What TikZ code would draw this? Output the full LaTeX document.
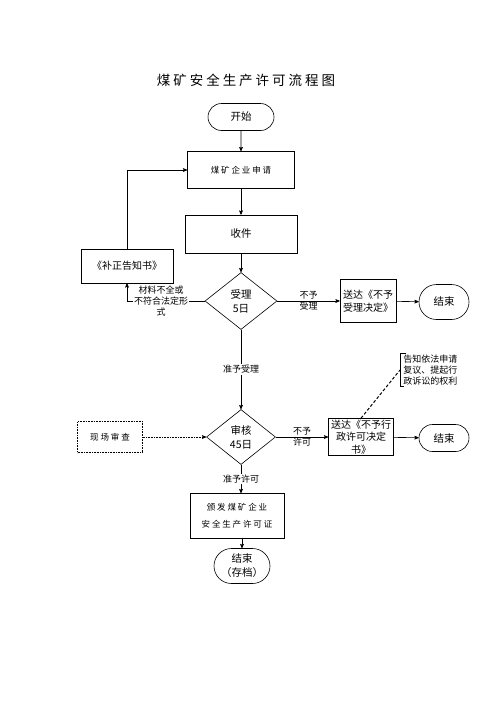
\documentclass[tikz,border=0pt]{standalone}
\usepackage{fontspec}
\setmainfont{Noto Sans CJK SC}
\newfontfamily\cjkwide[LetterSpace=22]{Noto Sans CJK SC}
\usetikzlibrary{arrows,shapes.geometric,shapes.misc,positioning}

\begin{document}
\begin{tikzpicture}[x=1pt,y=-1pt,->,>=stealth',line width=0.6pt,
  box/.style={rectangle,draw,align=center,inner sep=1pt,font=\fontsize{10.5}{14}\selectfont},
  widebox/.style={box,font=\cjkwide\fontsize{8.5}{17}\selectfont},
  term/.style={rounded rectangle,draw,align=center,inner sep=1pt,font=\fontsize{10.5}{14}\selectfont},
  check/.style={diamond,draw,align=center,inner sep=0pt,font=\fontsize{10.5}{14}\selectfont},
  lab/.style={align=center,inner sep=1pt,font=\fontsize{9}{11}\selectfont}]
    \useasboundingbox (0,0) rectangle (500,707);
    \node[font=\cjkwide\fontsize{13.5}{16}\selectfont] (title) at (246,80) {煤矿安全生产许可流程图};
    % main column
    \node[term,minimum width=68pt,minimum height=27pt] (start) at (241,117) {开始};
    \node[widebox,minimum width=107pt,minimum height=37pt] (apply) at (241,170) {煤矿企业申请};
    \node[box,minimum width=112pt,minimum height=38pt] (receive) at (241,234) {收件};
    \node[check,minimum width=72pt,minimum height=57pt] (accept) at (241,301) {受理\\5日};
    \node[check,minimum width=69pt,minimum height=55pt] (review) at (241,437) {审核\\45日};
    \node[widebox,minimum width=94pt,minimum height=45pt] (issue) at (237,516) {颁发煤矿企业\\安全生产许可证};
    \node[term,minimum width=58pt,minimum height=35pt] (archive) at (242,566) {结束\\（存档）};
    % side boxes
    \node[box,font=\fontsize{10}{12}\selectfont,minimum width=92pt,minimum height=34pt] (notice) at (127,266) {《补正告知书》};
    \node[box,font=\fontsize{10}{13.5}\selectfont,minimum width=56pt,minimum height=43pt] (refuse1) at (368,301) {送达《不予\\受理决定》};
    \node[term,minimum width=52pt,minimum height=35pt] (end1) at (444,302) {结束};
    \node[widebox,densely dotted,minimum width=65pt,minimum height=31pt] (site) at (110,437) {现场审查};
    \node[box,font=\fontsize{10}{12.5}\selectfont,minimum width=65pt,minimum height=37pt] (refuse2) at (361,437) {送达《不予行\\政许可决定\\书》};
    \node[term,minimum width=52pt,minimum height=27pt] (end2) at (444,438) {结束};
    \node[lab,anchor=west,align=left] (right) at (402,370) {告知依法申请\\复议、提起行\\政诉讼的权利};
    \coordinate (brk) at (400,370);

    \path (start) edge (apply)
    (apply) edge (receive)
    (receive) edge (accept)
    (accept) edge node[lab,fill=white] {准予受理} (review)
    (accept) edge node[lab] {不予\\受理} (refuse1)
    (refuse1) edge (end1)
    (review) edge node[lab] {不予\\许可} (refuse2)
    (refuse2) edge (end2)
    (site) edge[densely dotted] (review);
    \draw (review.south) -- node[lab,fill=white] {准予许可} (review.south |- issue.north);
    \draw (issue.south -| archive.north) -- (archive.north);
    \draw (accept.west) -| node[lab,fill=white,pos=0.28] {材料不全或\\不符合法定形\\式} (notice.south);
    \draw (notice.north) |- (apply.west);
    \draw[-] (right.north west) ++(4,0) -- (brk |- right.north) -- (brk |- right.south) -- ++(4,0);
    \draw[-,densely dashed,line width=1pt] (refuse2.north) -- (brk);
\end{tikzpicture}
\end{document}
